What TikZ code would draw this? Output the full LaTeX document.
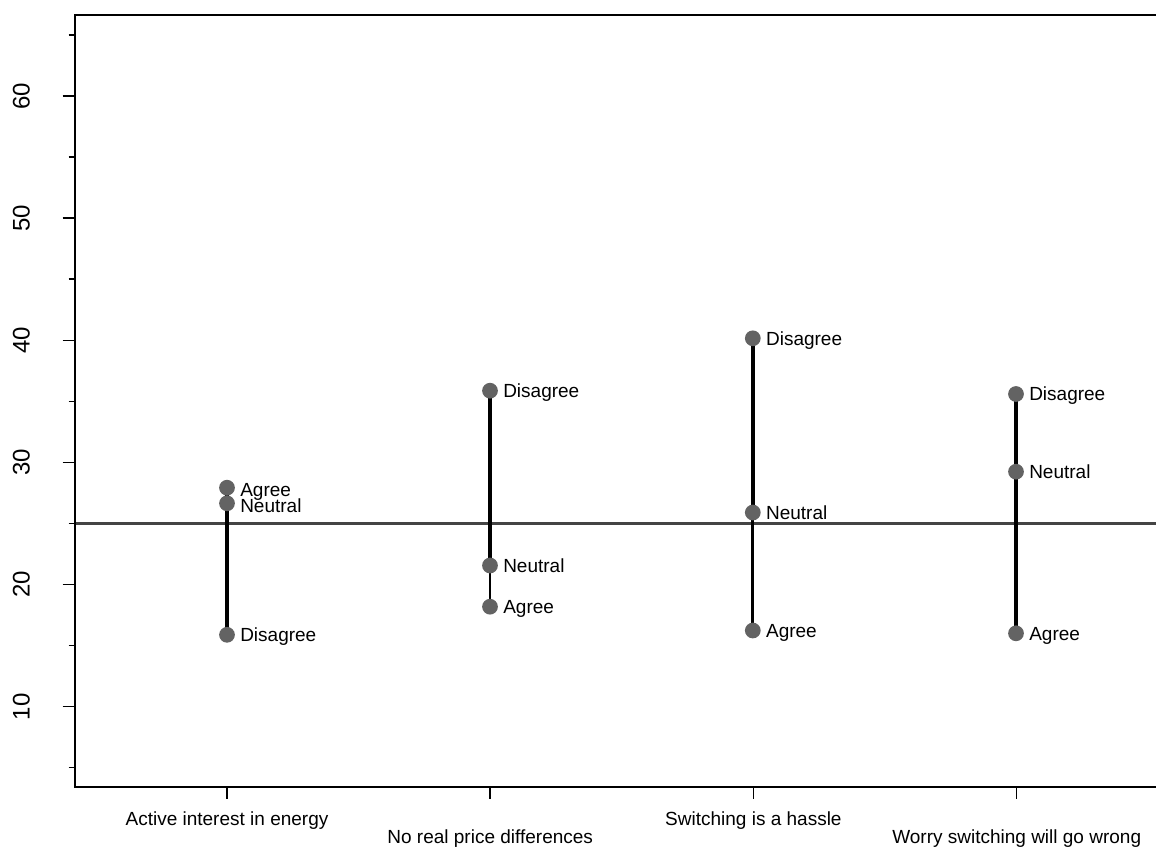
\documentclass[tikz,border=0pt]{standalone}
\usepackage{fontspec}
\setmainfont{Liberation Sans}
\definecolor{dotgray}{HTML}{636363}
\definecolor{refgray}{HTML}{444444}
\begin{document}
\begin{tikzpicture}[x=0.75pt,y=-0.75pt,
  dot/.style={circle,fill=dotgray,inner sep=0pt,minimum size=11.8pt},
  lab/.style={font=\fontsize{14.25}{16}\selectfont,inner sep=0pt,anchor=base west},
  xlab/.style={font=\fontsize{14.25}{16}\selectfont,inner sep=0pt,anchor=base},
  ylab/.style={font=\fontsize{18}{20}\selectfont,inner sep=0pt,rotate=90},
  axisline/.style={line width=1.5pt,black},
  tickline/.style={line width=1.1pt,black},
  refline/.style={line width=1.9pt,refgray},
  seg/.style={black}]
\useasboundingbox (0,0) rectangle (1156,846);
% reference line at 25
\coordinate (rl0) at (74.7,523.4);
\coordinate (rl1) at (1156,523.4);
\draw[refline] (rl0) -- (rl1);
% axes
\coordinate (tl) at (74.7,14.7);
\coordinate (tr) at (1157,14.7);
\coordinate (bl) at (74.7,787);
\coordinate (br) at (1157,787);
\draw[axisline] (tr) -- (tl) -- (bl) -- (br);
% y ticks
\foreach \v in {10,20,30,40,50,60}{
  \draw[tickline] (62.7,{96+(60-\v)*12.2133}) -- (74.7,{96+(60-\v)*12.2133});
  \node[ylab] at (21.3,{96+(60-\v)*12.2133}) {\v};
}
\foreach \v in {5,15,25,35,45,55,65}{
  \draw[tickline] (68.7,{96+(60-\v)*12.2133}) -- (74.7,{96+(60-\v)*12.2133});
}
% x ticks
\foreach \xx in {227,490.2,753.4,1016.7}{
  \draw[tickline] (\xx,787) -- (\xx,799.3);
}
\node[xlab] (xl1) at (227,825) {Active interest in energy};
\node[xlab] (xl2) at (490.2,843.5) {No real price differences};
\node[xlab] (xl3) at (753.4,825) {Switching is a hassle};
\node[xlab] (xl4) at (1016.7,843.5) {Worry switching will go wrong};
% data points
\coordinate (p1a) at (227,487.7);
\coordinate (p1n) at (227,503.3);
\coordinate (p1d) at (227,634.8);
\coordinate (p2d) at (490,390.7);
\coordinate (p2n) at (490,565.5);
\coordinate (p2a) at (490,606.7);
\coordinate (p3d) at (752.8,338.3);
\coordinate (p3n) at (752.8,512.5);
\coordinate (p3a) at (752.8,630.5);
\coordinate (p4d) at (1016,394);
\coordinate (p4n) at (1016,471.7);
\coordinate (p4a) at (1016,633.3);
% segments
\draw[seg,line width=2.3pt] (p1a) -- (p1n);
\draw[seg,line width=2.3pt] (p1n) -- (p1d);
\draw[seg,line width=3.1pt] (p2d) -- (p2n);
\draw[seg,line width=2pt] (p2n) -- (p2a);
\draw[seg,line width=2.8pt] (p3d) -- (p3n);
\draw[seg,line width=2.4pt] (p3n) -- (p3a);
\draw[seg,line width=2.6pt] (p4d) -- (p4n);
\draw[seg,line width=2.7pt] (p4n) -- (p4a);
% dots
\foreach \p in {1a,1n,1d,2d,2n,2a,3d,3n,3a,4d,4n,4a}{
  \node[dot] (s\p) at (p\p) {};
}
% labels
\node[lab] (l1a) at ([xshift=9.75pt,yshift=-6.6pt]s1a.center) {Agree};
\node[lab] (l1n) at ([xshift=9.75pt,yshift=-6.6pt]s1n.center) {Neutral};
\node[lab] (l1d) at ([xshift=9.75pt,yshift=-5.1pt]s1d.center) {Disagree};
\node[lab] (l2d) at ([xshift=9.75pt,yshift=-5.1pt]s2d.center) {Disagree};
\node[lab] (l2n) at ([xshift=9.75pt,yshift=-5.1pt]s2n.center) {Neutral};
\node[lab] (l2a) at ([xshift=9.75pt,yshift=-5.1pt]s2a.center) {Agree};
\node[lab] (l3d) at ([xshift=9.75pt,yshift=-5.1pt]s3d.center) {Disagree};
\node[lab] (l3n) at ([xshift=9.75pt,yshift=-5.1pt]s3n.center) {Neutral};
\node[lab] (l3a) at ([xshift=9.75pt,yshift=-5.1pt]s3a.center) {Agree};
\node[lab] (l4d) at ([xshift=9.75pt,yshift=-5.1pt]s4d.center) {Disagree};
\node[lab] (l4n) at ([xshift=9.75pt,yshift=-5.1pt]s4n.center) {Neutral};
\node[lab] (l4a) at ([xshift=9.75pt,yshift=-5.1pt]s4a.center) {Agree};
\end{tikzpicture}
\end{document}
